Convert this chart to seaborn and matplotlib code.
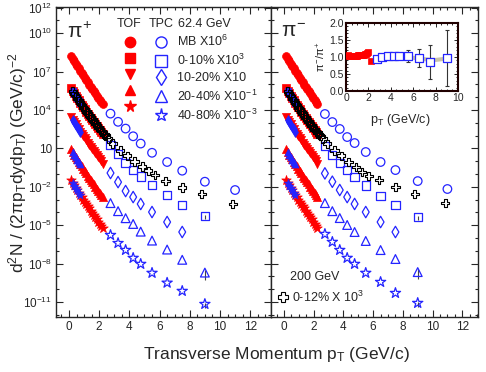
import numpy as np
import matplotlib
matplotlib.use('Agg')
import matplotlib.pyplot as plt
from matplotlib.lines import Line2D
from matplotlib.ticker import FixedLocator, NullFormatter, MultipleLocator, FormatStrFormatter
import seaborn as sns

sns.set_style('ticks')
plt.rcParams['font.family'] = ['Liberation Sans', 'DejaVu Sans']
plt.rcParams['mathtext.fontset'] = 'custom'
plt.rcParams['mathtext.rm'] = 'Liberation Sans'
plt.rcParams['mathtext.it'] = 'Liberation Sans'
plt.rcParams['mathtext.bf'] = 'Liberation Sans:bold'

RED = '#ff0000'
BLUE = '#2424ff'

# ---- 62.4 GeV, TOF (filled red), pT in GeV/c, values are log10 of the scaled yield
tof_pt = [0.15, 0.25, 0.35, 0.45, 0.55, 0.65, 0.75, 0.85, 0.95, 1.05, 1.15,
          1.25, 1.35, 1.45, 1.55, 1.65, 1.75, 1.85, 1.95, 2.05, 2.15, 2.25]
tof_mb = [8.22, 8.02, 7.82, 7.63, 7.44, 7.25, 7.06, 6.88, 6.70, 6.52, 6.34,
          6.16, 5.98, 5.81, 5.64, 5.47, 5.30, 5.13, 4.96, 4.79, 4.62, 4.45]
tof_c0 = [5.70, 5.50, 5.31, 5.12, 4.94, 4.76, 4.58, 4.40, 4.22, 4.05, 3.88,
          3.71, 3.54, 3.37, 3.21, 3.05, 2.89, 2.73, 2.57, 2.41, 2.25, 2.09]
tof_c1 = [3.45, 3.25, 3.06, 2.87, 2.68, 2.50, 2.32, 2.14, 1.96, 1.79, 1.62,
          1.45, 1.28, 1.11, 0.94, 0.78, 0.62, 0.46, 0.30, 0.14, -0.02, -0.18]
tof_c2 = [0.92, 0.72, 0.52, 0.33, 0.14, -0.05, -0.23, -0.41, -0.59, -0.77, -0.95,
          -1.13, -1.30, -1.47, -1.64, -1.81, -1.98, -2.15, -2.32, -2.49, -2.66, -2.83]
tof_c3 = [-1.48, -1.68, -1.88, -2.07, -2.26, -2.45, -2.63, -2.81, -2.99, -3.17, -3.35,
          -3.52, -3.69, -3.86, -4.03, -4.20, -4.37, -4.54, -4.71, -4.88, -5.05, -5.22]

# ---- 62.4 GeV, TPC low pT (dE/dx)
low_pt = [0.25, 0.35, 0.45, 0.55, 0.65, 0.75]
low_c0 = [5.48, 5.29, 5.10, 4.92, 4.74, 4.56]
low_c1 = [3.23, 3.04, 2.85, 2.66, 2.48, 2.30]
low_c2 = [0.70, 0.50, 0.31, 0.12, -0.07, -0.25]
low_c3 = [-1.70, -1.90, -2.09, -2.28, -2.47, -2.65]

# ---- 62.4 GeV, TPC high pT (open blue)
hi_pt = [2.75, 3.25, 3.75, 4.25, 4.75, 5.5, 6.5, 7.5, 9.0, 11.0]
pos_mb = [3.72, 3.08, 2.55, 1.95, 1.38, 0.66, -0.06, -0.74, -1.60, -2.25]
pos_c0 = [1.27, 0.56, -0.14, -0.70, -1.20, -1.86, -2.64, -3.40, -4.30]
pos_c1 = [-0.92, -1.63, -2.33, -2.80, -3.34, -3.97, -4.75, -5.53]
pos_c2 = [-3.27, -3.90, -4.45, -4.90, -5.50, -6.20, -6.90, -7.70, -8.70]
pos_c3 = [-5.77, -6.40, -6.94, -7.56, -8.03, -8.73, -9.50, -10.14, -11.16]
neg_mb = [3.69, 3.06, 2.52, 1.89, 1.42, 0.72, -0.06, -0.69, -1.55, -2.17]
neg_c0 = [1.20, 0.50, -0.14, -0.69, -1.23, -1.90, -2.72, -3.42, -4.36]
neg_c1 = [-0.95, -1.60, -2.25, -2.80, -3.34, -3.97, -4.75, -5.53]
neg_c2 = [-3.27, -3.90, -4.44, -4.98, -5.53, -6.23, -6.94, -7.64, -8.66]
neg_c3 = [-5.69, -6.31, -6.94, -7.56, -8.03, -8.73, -9.44, -10.30, -11.08]

# error bars (log10 half-width) on the pT = 9 GeV/c points: 0-10%, 20-40%, 40-80%
err9 = [0.25, 0.55, 0.3]

# ---- 200 GeV 0-12% x10^3 (open black crosses)
au200_pt = [0.25, 0.35, 0.45, 0.55, 0.65, 0.75, 0.85, 0.95, 1.05, 1.15, 1.25, 1.35,
            1.45, 1.55, 1.65, 1.75, 1.85, 1.95, 2.05, 2.15, 2.25, 2.35, 2.45,
            2.6, 2.9, 3.4, 3.85, 4.35, 4.85, 5.25, 5.7, 6.4, 7.5, 8.8, 10.85]
au200_pos = [5.45, 5.27, 5.09, 4.91, 4.73, 4.56, 4.39, 4.22, 4.05, 3.89, 3.73, 3.57,
             3.41, 3.25, 3.10, 2.95, 2.80, 2.65, 2.50, 2.36, 2.22, 2.08, 1.95,
             1.78, 1.38, 0.85, 0.42, -0.02, -0.40, -0.74, -1.08, -1.55, -2.04, -2.56, -3.34]
au200_neg = [5.45, 5.27, 5.09, 4.91, 4.73, 4.56, 4.39, 4.22, 4.05, 3.89, 3.73, 3.57,
             3.41, 3.25, 3.10, 2.95, 2.80, 2.65, 2.50, 2.36, 2.22, 2.08, 1.95,
             1.78, 1.36, 0.84, 0.42, -0.06, -0.45, -0.84, -1.16, -1.47, -2.02, -2.56, -3.27]

# ---- inset: pi-/pi+ ratio
r_tof_pt = [0.2, 0.3, 0.4, 0.5, 0.6, 0.7, 0.8, 0.9, 1.0, 1.1, 1.2, 1.3, 1.4,
            1.5, 1.6, 1.7, 1.8, 1.9, 2.0, 2.2]
r_tof = [1.05, 1.04, 1.04, 1.03, 1.03, 1.03, 1.04, 1.04, 1.04, 1.05, 1.05, 1.05,
         1.06, 1.06, 1.07, 1.08, 1.10, 1.12, 1.14, 0.88]
r_tpc_pt = [2.75, 3.25, 3.75, 4.25, 4.75, 5.5, 6.5, 7.5, 9.0]
r_tpc = [0.93, 1.00, 1.02, 1.02, 1.03, 1.04, 0.98, 0.86, 0.98]
r_tpc_err = [0.05, 0.07, 0.10, 0.10, 0.10, 0.18, 0.27, 0.50, 0.82]
band_pt = [2.5, 3.0, 3.5, 4.0, 4.5, 5.0, 5.5, 6.0, 6.5, 7.0, 7.5, 8.0, 8.5, 9.0]
band_lo = [0.89, 0.91, 0.93, 0.94, 0.94, 0.94, 0.94, 0.93, 0.91, 0.89, 0.87, 0.87, 0.89, 0.92]
band_hi = [1.01, 1.03, 1.05, 1.06, 1.06, 1.06, 1.06, 1.05, 1.03, 1.01, 0.99, 0.99, 1.01, 1.04]

markers = ['o', 's', 'v', '^', '*']
cent_labels = ['MB X10$^{6}$', '0-10% X10$^{3}$', '10-20% X10',
               '20-40% X10$^{-1}$', '40-80% X10$^{-3}$']
ytick_exp = [-11, -8, -5, -2, 1, 4, 7, 10, 12]
ytick_lab = ['10$^{-11}$', '10$^{-8}$', '10$^{-5}$', '10$^{-2}$', '10',
             '10$^{4}$', '10$^{7}$', '10$^{10}$', '10$^{12}$']


def dots(ax, x, ylog, marker, face, edge, s, lw=1.0, z=3):
    n = min(len(x), len(ylog))
    sns.scatterplot(x=np.asarray(x[:n]), y=10.0 ** np.asarray(ylog[:n]), ax=ax,
                    marker=marker, s=s, facecolor=face, edgecolor=edge,
                    linewidth=lw, zorder=z, legend=False)


def panel(ax, tpc, au200, xlim):
    ax.set_yscale('log')
    tof = [tof_mb, tof_c0, tof_c1, tof_c2, tof_c3]
    sizes = [32, 30, 34, 34, 52]
    for m, ylog, s in zip(markers, tof, sizes):
        dots(ax, tof_pt, ylog, m, RED, RED, s, lw=0.5, z=3)
    for m, ylog, s in zip(markers[1:], [low_c0, low_c1, low_c2, low_c3], sizes[1:]):
        dots(ax, low_pt, ylog, {'v': 'd'}.get(m, m), BLUE, BLUE, s * 0.75, lw=0.5, z=4)
    hsizes = [38, 36, 34, 40, 60]
    hmark = ['o', 's', 'd', '^', '*']
    for m, ylog, s in zip(hmark, tpc, hsizes):
        dots(ax, hi_pt, ylog, m, 'none', BLUE, s, lw=0.9, z=4)
    # error bars on last points
    for ylog, e in zip([tpc[1], tpc[3], tpc[4]], err9):
        ax.vlines(hi_pt[8], 10.0 ** (ylog[8] - e), 10.0 ** (ylog[8] + e * 0.4),
                  color='#444444', lw=0.8, zorder=2)
    dots(ax, au200_pt, au200, 'P', 'none', 'black', 36, lw=0.8, z=5)

    ax.set_xlim(*xlim)
    ax.set_ylim(10 ** -12.17, 10 ** 12.05)
    ax.xaxis.set_major_locator(MultipleLocator(2))
    ax.xaxis.set_minor_locator(MultipleLocator(0.5))
    ax.yaxis.set_major_locator(FixedLocator([10.0 ** e for e in ytick_exp]))
    ax.yaxis.set_minor_locator(FixedLocator([10.0 ** e for e in range(-12, 13)]))
    ax.yaxis.set_minor_formatter(NullFormatter())
    ax.tick_params(which='both', direction='in', top=True, right=True,
                   labelsize=8.5, width=0.8, pad=3)
    ax.tick_params(which='major', length=5)
    ax.tick_params(which='minor', length=2.5)
    for sp in ax.spines.values():
        sp.set_linewidth(1.0)
    ax.set_xlabel('')
    ax.set_ylabel('')


fig = plt.figure(figsize=(4.86, 3.72), dpi=100)
ax1 = fig.add_axes([56 / 486, 55 / 372, 215 / 486, 310 / 372])
ax2 = fig.add_axes([271 / 486, 55 / 372, 207 / 486, 310 / 372])

panel(ax1, [pos_mb, pos_c0, pos_c1, pos_c2, pos_c3], au200_pos, (-0.86, 13.38))
panel(ax2, [neg_mb, neg_c0, neg_c1, neg_c2, neg_c3], au200_neg, (-0.88, 13.06))
ax1.set_yticklabels(ytick_lab)
ax2.set_yticklabels([])

ax1.text(0.05, 0.92, r'$\pi^{+}$', transform=ax1.transAxes, fontsize=15, va='center', ha='left')
ax2.text(0.05, 0.92, r'$\pi^{-}$', transform=ax2.transAxes, fontsize=15, va='center', ha='left')

# legend (left panel)
ax1.text((129 - 56) / 215, (317 - 24) / 310, 'TOF', transform=ax1.transAxes,
         fontsize=9, ha='center', va='center')
ax1.text((161 - 56) / 215, (317 - 24) / 310, 'TPC', transform=ax1.transAxes,
         fontsize=9, ha='center', va='center')
ax1.text((178 - 56) / 215, (317 - 24) / 310, '62.4 GeV', transform=ax1.transAxes,
         fontsize=9, ha='left', va='center')
hmark = ['o', 's', 'd', '^', '*']
h_red = [Line2D([], [], ls='', marker=m, ms=8.5 if m == '*' else 7.5,
                mfc=RED, mec=RED) for m in markers]
h_blue = [Line2D([], [], ls='', marker=m, ms=9.5 if m == '*' else 8,
                 mfc='none', mec=BLUE, mew=1.0) for m in hmark]
ax1.legend(h_red + h_blue, [''] * 5 + cent_labels, ncol=2, loc='upper left',
           bbox_to_anchor=((123.5 - 56) / 215, (317 - 34) / 310), frameon=False,
           fontsize=9, handlelength=1.0, handletextpad=0.8, columnspacing=0.68,
           labelspacing=0.32, borderpad=0, borderaxespad=0)

# 200 GeV label (right panel)
ax2.text((290 - 271) / 207, (317 - 277) / 310, '200 GeV', transform=ax2.transAxes,
         fontsize=9, ha='left', va='center')
h_x = Line2D([], [], ls='', marker='P', ms=7.5, mfc='none', mec='black', mew=0.8)
ax2.legend([h_x], ['0-12% X 10$^{3}$'], loc='center left',
           bbox_to_anchor=((278 - 271) / 207, (317 - 297) / 310), frameon=False,
           fontsize=9, handlelength=0.8, handletextpad=0.3, borderpad=0, borderaxespad=0)

fig.text(18 / 486, (372 - 163) / 372,
         r'd$^{2}$N / (2$\pi$p$_{T}$dydp$_{T}$) (GeV/c)$^{-2}$',
         rotation=90, fontsize=12.5, ha='center', va='center')
fig.text(276 / 486, (372 - 354) / 372, 'Transverse Momentum p$_{T}$ (GeV/c)',
         fontsize=12.5, ha='center', va='center')

# inset ratio
axi = fig.add_axes([346 / 486, (372 - 91) / 372, 112 / 486, 68 / 372])
axi.fill_between(band_pt, band_lo, band_hi, color='#c9c3a8', lw=0, zorder=1)
axi.errorbar(r_tpc_pt, r_tpc, yerr=r_tpc_err, fmt='none', ecolor='#333333',
             elinewidth=0.8, capsize=1.5, capthick=0.8, zorder=2)
sns.scatterplot(x=r_tof_pt, y=r_tof, ax=axi, marker='s', s=22, facecolor=RED,
                edgecolor=RED, linewidth=0.5, zorder=3, legend=False)
sns.scatterplot(x=r_tpc_pt, y=r_tpc, ax=axi, marker='s', s=30, facecolor='white',
                edgecolor=BLUE, linewidth=0.9, zorder=4, legend=False)
axi.set_xlim(0, 10)
axi.set_ylim(0, 2.0)
axi.xaxis.set_major_locator(MultipleLocator(2))
axi.xaxis.set_minor_locator(MultipleLocator(0.5))
axi.yaxis.set_major_locator(MultipleLocator(0.5))
axi.yaxis.set_minor_locator(MultipleLocator(0.1))
axi.yaxis.set_major_formatter(FormatStrFormatter('%.1f'))
axi.tick_params(which='both', direction='in', top=True, right=True,
                labelsize=7.5, width=0.7, pad=1.5)
axi.tick_params(which='major', length=3)
axi.tick_params(which='minor', length=1.5)
for sp in axi.spines.values():
    sp.set_linewidth(1.5)
    sp.set_color('#200000')
axi.set_xlabel('')
axi.set_ylabel(r'$\pi^{-}$/$\pi^{+}$', fontsize=8, labelpad=1)
fig.text(400 / 486, (372 - 120) / 372, 'p$_{T}$ (GeV/c)', fontsize=9,
         ha='center', va='center')

fig.savefig('out.png', dpi=100)
